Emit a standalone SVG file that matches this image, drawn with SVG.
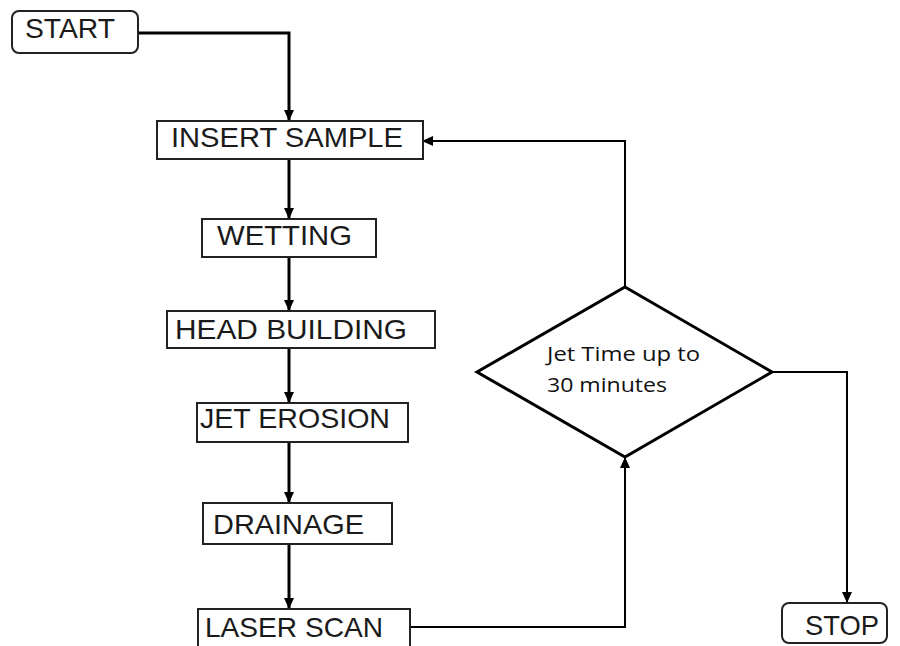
<svg xmlns="http://www.w3.org/2000/svg" width="900" height="646" viewBox="0 0 900 646">
<defs>
<marker id="ah" markerWidth="11" markerHeight="11" refX="10" refY="5.5" orient="auto" markerUnits="userSpaceOnUse">
<path d="M0,0.5 L11,5.5 L0,10.5 Z" fill="#000"/>
</marker>
<style>
.box{fill:#fff;stroke:#222;stroke-width:2}
.lbl{font-family:"Liberation Sans",Arial,sans-serif;font-size:28px;fill:#1a1a1a}
.dec{font-family:"Open Sans","Liberation Sans",sans-serif;font-size:20px;fill:#111}
.thick{fill:none;stroke:#000;stroke-width:3}
.thin{fill:none;stroke:#000;stroke-width:2}
</style>
</defs>
<rect width="900" height="646" fill="#fff"/>
<g id="connectors">
<path class="thick" d="M138,33 H289 V120" marker-end="url(#ah)"/>
<path class="thick" d="M289,159 V218" marker-end="url(#ah)"/>
<path class="thick" d="M289,257 V310" marker-end="url(#ah)"/>
<path class="thick" d="M289,348 V402" marker-end="url(#ah)"/>
<path class="thick" d="M289,442 V502" marker-end="url(#ah)"/>
<path class="thick" d="M289,544 V608" marker-end="url(#ah)"/>
<path class="thin" d="M410,627 H625 V458" marker-end="url(#ah)"/>
<path class="thin" d="M625,287 V141 H423" marker-end="url(#ah)"/>
<path class="thin" d="M772,372 H847 V602" marker-end="url(#ah)"/>
</g>
<g id="start">
<rect class="box" x="12" y="11" width="126" height="42" rx="7"/>
<text class="lbl" x="25" y="38" textLength="90" lengthAdjust="spacingAndGlyphs">START</text>
</g>
<g id="insert-sample">
<rect class="box" x="157" y="121" width="266" height="38"/>
<text class="lbl" x="171" y="147" textLength="232" lengthAdjust="spacingAndGlyphs">INSERT SAMPLE</text>
</g>
<g id="wetting">
<rect class="box" x="202" y="219" width="174" height="38"/>
<text class="lbl" x="217" y="245" textLength="135" lengthAdjust="spacingAndGlyphs">WETTING</text>
</g>
<g id="head-building">
<rect class="box" x="167" y="311" width="268" height="37"/>
<text class="lbl" x="175" y="339" textLength="232" lengthAdjust="spacingAndGlyphs">HEAD BUILDING</text>
</g>
<g id="jet-erosion">
<rect class="box" x="197" y="403" width="211" height="39"/>
<text class="lbl" x="200" y="428" textLength="190" lengthAdjust="spacingAndGlyphs">JET EROSION</text>
</g>
<g id="drainage">
<rect class="box" x="203" y="503" width="189" height="41"/>
<text class="lbl" x="213" y="534" textLength="151" lengthAdjust="spacingAndGlyphs">DRAINAGE</text>
</g>
<g id="laser-scan">
<rect class="box" x="198" y="609" width="212" height="45"/>
<text class="lbl" x="205" y="637" textLength="178" lengthAdjust="spacingAndGlyphs">LASER SCAN</text>
</g>
<g id="decision">
<polygon points="625,287 772,372 625,457 477,372" fill="#fff" stroke="#000" stroke-width="3" stroke-linejoin="miter"/>
<text class="dec" x="547" y="361" textLength="153" lengthAdjust="spacingAndGlyphs">Jet Time up to</text>
<text class="dec" x="547" y="392" textLength="120" lengthAdjust="spacingAndGlyphs">30 minutes</text>
</g>
<g id="stop">
<rect class="box" x="782" y="603" width="105" height="40" rx="7"/>
<text class="lbl" x="805" y="635" textLength="74" lengthAdjust="spacingAndGlyphs">STOP</text>
</g>
</svg>
